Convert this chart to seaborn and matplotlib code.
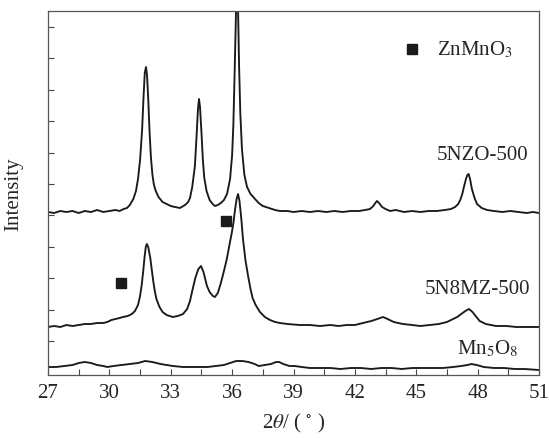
import numpy as np
import pandas as pd
import matplotlib
matplotlib.use("Agg")
import matplotlib.pyplot as plt
import seaborn as sns
from matplotlib.ticker import MultipleLocator

# ---- data (2theta in degrees, intensity in arbitrary units) ----
nzo_x = [27.0, 27.3, 27.6, 27.9, 28.2, 28.5, 28.8, 29.1, 29.4, 29.7, 30.0, 30.3, 30.5, 30.7, 30.86,
         31.0, 31.17, 31.3, 31.4, 31.5, 31.6, 31.67, 31.73, 31.79, 31.84, 31.9, 31.96, 32.03, 32.1,
         32.17, 32.25, 32.4, 32.6, 32.8, 33.0, 33.2, 33.45, 33.7, 33.85, 33.94, 34.05, 34.18, 34.26,
         34.33, 34.38, 34.43, 34.5, 34.57, 34.64, 34.75, 34.9, 35.05, 35.16, 35.3, 35.45, 35.6, 35.75,
         35.9, 36.0, 36.06, 36.12, 36.17, 36.21, 36.25, 36.29, 36.34, 36.4, 36.48, 36.6, 36.73, 36.9,
         37.12, 37.3, 37.5, 37.8, 38.1, 38.34, 38.7, 39.0, 39.4, 39.8, 40.2, 40.6, 41.0, 41.4, 41.8,
         42.2, 42.5, 42.74, 42.9, 43.0, 43.08, 43.18, 43.33, 43.5, 43.72, 44.0, 44.4, 44.8, 45.2,
         45.6, 46.0, 46.4, 46.7, 46.9, 47.05, 47.15, 47.25, 47.33, 47.43, 47.5, 47.56, 47.63, 47.72,
         47.85, 47.97, 48.2, 48.46, 48.8, 49.2, 49.6, 50.0, 50.4, 50.7, 51.0]
nzo_y = [163, 162, 164, 163, 164, 162, 164, 163, 165, 163, 164, 165, 164, 166, 167,
         170, 176, 184, 196, 215, 245, 278, 302, 308, 300, 276, 245, 218, 201,
         191, 185, 178, 173, 171, 169, 168, 167, 170, 173, 177, 188, 209, 238,
         266, 276, 268, 243, 215, 197, 184, 175, 171, 169, 170, 172, 175, 181,
         196, 220, 250, 300, 345, 380, 390, 365, 309, 262, 226, 200, 188, 181,
         176, 172, 169, 167, 165, 164, 164, 163, 164, 163, 164, 163, 164, 163, 164,
         164, 165, 166, 169, 172, 174, 172, 168, 166, 164, 165, 163, 164, 163,
         164, 164, 165, 166, 168, 171, 175, 181, 188, 196, 200, 201, 196, 186,
         177, 171, 167, 165, 164, 163, 164, 163, 162, 163, 162]

nmz_x = [27.0, 27.3, 27.6, 27.9, 28.2, 28.5, 28.8, 29.1, 29.4, 29.7, 29.9, 30.1, 30.3, 30.5, 30.67,
         30.9, 31.1, 31.25, 31.4, 31.5, 31.58, 31.65, 31.72, 31.78, 31.83, 31.9, 32.0, 32.08, 32.15,
         32.22, 32.3, 32.45, 32.6, 32.8, 33.1, 33.35, 33.6, 33.8, 33.94, 34.05, 34.2, 34.35, 34.48,
         34.6, 34.77, 34.9, 35.06, 35.16, 35.3, 35.45, 35.6, 35.74, 35.85, 35.99, 36.07, 36.14, 36.22,
         36.29, 36.36, 36.45, 36.53, 36.65, 36.78, 36.9, 37.0, 37.15, 37.36, 37.6, 37.85, 38.1, 38.34,
         38.7, 39.3, 39.8, 40.3, 40.8, 41.2, 41.6, 42.0, 42.4, 42.8, 43.1, 43.37, 43.6, 43.9, 44.35,
         44.8, 45.2, 45.67, 46.1, 46.5, 46.8, 47.0, 47.2, 47.4, 47.58, 47.75, 47.9, 48.1, 48.4, 48.9,
         49.4, 49.9, 50.4, 51.0]
nmz_y = [48, 49, 48, 50, 49, 50, 51, 51, 52, 52, 53, 55, 56, 57, 58,
         59, 61, 64, 70, 79, 90, 103, 118, 128, 131, 128, 117, 104, 93,
         84, 76, 68, 63, 60, 58, 59, 61, 66, 74, 84, 97, 106, 109,
         103, 89, 83, 79, 78, 82, 92, 104, 116, 128, 143, 153, 165, 176,
         181, 174, 156, 136, 115, 99, 86, 77, 70, 63, 58, 55, 53, 52,
         51, 50, 50, 49, 50, 49, 50, 50, 52, 54, 56, 58, 56, 53, 51,
         50, 49, 50, 51, 53, 56, 58, 61, 64, 66, 63, 59, 54, 51, 49,
         49, 48, 48, 48]

mno_x = [27.0, 27.4, 27.8, 28.2, 28.5, 28.8, 29.1, 29.4, 29.7, 29.9, 30.2, 30.6, 31.0, 31.4, 31.75,
         32.1, 32.5, 32.8, 33.1, 33.6, 34.0, 34.4, 34.8, 35.2, 35.6, 35.9, 36.2, 36.5, 36.8, 37.1,
         37.3, 37.6, 37.9, 38.15, 38.3, 38.5, 38.8, 39.05, 39.4, 39.8, 40.3, 40.8, 41.3, 41.8, 42.3,
         42.8, 43.3, 43.8, 44.3, 44.8, 45.3, 45.8, 46.3, 46.8, 47.2, 47.5, 47.7, 47.95, 48.3, 48.8,
         49.3, 49.8, 50.3, 51.0]
mno_y = [8, 8, 9, 10, 12, 13, 12, 10, 9, 8, 9, 10, 11, 12, 14,
         13, 11, 10, 9, 8, 8, 8, 8, 9, 10, 12, 14, 14, 13, 11,
         9, 10, 11, 13, 13, 11, 9, 9, 8, 7, 7, 7, 6, 7, 7,
         6, 7, 7, 6, 7, 7, 7, 7, 8, 9, 10, 11, 10, 8, 7,
         7, 6, 6, 5]

marker_x = [30.57, 35.70]
marker_y = [92, 154]

x_ticks = [27, 30, 33, 36, 39, 42, 45, 48, 51]

# ---- build table ----
df = pd.concat([
    pd.DataFrame({"two_theta": nzo_x, "intensity": nzo_y, "sample": "5NZO-500"}),
    pd.DataFrame({"two_theta": nmz_x, "intensity": nmz_y, "sample": "5N8MZ-500"}),
    pd.DataFrame({"two_theta": mno_x, "intensity": mno_y, "sample": "Mn5O8"}),
], ignore_index=True)

sns.set_theme(style="ticks")
plt.rcParams["font.family"] = ["Liberation Serif", "DejaVu Serif"]
plt.rcParams["mathtext.fontset"] = "stix"

fig = plt.figure(figsize=(5.49, 4.39), dpi=100)
ax = fig.add_axes([48 / 549, 1 - 376 / 439, (539 - 48) / 549, (376 - 12) / 439])

sns.lineplot(data=df, x="two_theta", y="intensity", units="sample", estimator=None,
             color="#1a1a1a", linewidth=1.35, ax=ax, legend=False, sort=False)

ax.plot(marker_x, marker_y, linestyle="none", marker="s", markersize=6.5,
        color="#1a1a1a")
# legend
ax.plot([44.79], [326], linestyle="none", marker="s", markersize=6.5, color="#1a1a1a")
ax.text(46.0, 326, r"ZnMnO$_3$", fontsize=15, va="center", ha="left")

ax.text(50.5, 221, "5NZO-500", fontsize=15, va="center", ha="right")
ax.text(50.55, 86, "5N8MZ-500", fontsize=15, va="center", ha="right")
ax.text(50.0, 27, r"Mn$_5$O$_8$", fontsize=15, va="center", ha="right")

ax.set_xlim(27, 51)
ax.set_ylim(0, 364)
ax.set_xticks(x_ticks)
ax.set_xticklabels([str(t) for t in x_ticks])
ax.xaxis.set_minor_locator(MultipleLocator(1.5))
ax.set_yticks(list(np.arange(34, 364, 31.4)))
ax.set_yticklabels([])

ax.tick_params(axis="both", which="both", direction="in", length=4, width=0.8,
               color="#444444", labelsize=15, pad=6)
ax.tick_params(axis="y", which="both", left=True, right=False)
ax.tick_params(axis="x", which="both", top=False)

for s in ax.spines.values():
    s.set_visible(True)
    s.set_color("#555555")
    s.set_linewidth(0.9)

ax.set_xlabel(r"2$\theta$/ ( $^{\circ}$ )", fontsize=15, labelpad=6)
ax.set_ylabel("Intensity", fontsize=15, labelpad=12)

fig.savefig("out.png", dpi=100)
